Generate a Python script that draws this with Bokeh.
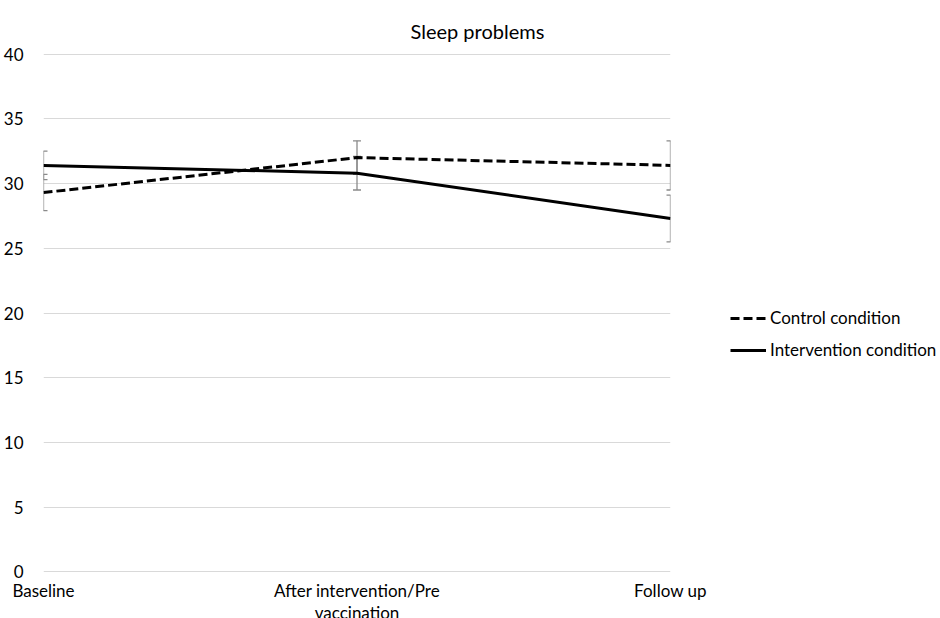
from bokeh.plotting import figure
from bokeh.models import Range1d, FixedTicker, Legend, LegendItem, Title, ColumnDataSource
from bokeh.embed import file_html
from bokeh.resources import INLINE

# ---- data ----
time_labels = ["Baseline", "After intervention/Pre\nvaccination", "Follow up"]
x_pos = [0, 1, 2]
control_mean = [29.3, 32.0, 31.4]
control_err = [1.4, 1.3, 1.9]
intervention_mean = [31.4, 30.8, 27.3]
intervention_err = [1.1, 1.3, 1.8]
y_ticks = [0, 5, 10, 15, 20, 25, 30, 35, 40]

FONT = "Lato"
GRAY = "#8a8a8a"

p = figure(frame_width=627, frame_height=519, output_backend="svg", toolbar_location=None,
           x_range=Range1d(0, 2), y_range=Range1d(-0.04, 40.04),
           min_border_left=41, min_border_right=240, min_border_top=53, min_border_bottom=20,
           background_fill_color="white", border_fill_color="white")
p.outline_line_color = None

p.add_layout(Title(text="Sleep problems", align="left", offset=367, text_font=FONT,
                   text_font_size="20px", text_font_style="normal", text_color="#000000",
                   standoff=21), "above")

# axes
p.xaxis.ticker = FixedTicker(ticks=x_pos)
p.xaxis.major_label_overrides = {x: lab for x, lab in zip(x_pos, time_labels)}
p.yaxis.ticker = FixedTicker(ticks=y_ticks)
for ax in (p.xaxis[0], p.yaxis[0]):
    ax.axis_line_color = None
    ax.major_tick_line_color = None
    ax.minor_tick_line_color = None
    ax.major_label_text_font = FONT
    ax.major_label_text_font_size = "17px"
    ax.major_label_text_color = "#000000"
p.yaxis.major_label_standoff = 14
p.xaxis.major_label_standoff = 1
p.xaxis.major_label_text_line_height = 1.05

p.xgrid.grid_line_color = None
p.ygrid.grid_line_color = "#d9d9d9"
p.ygrid.grid_line_width = 1

# error bars
def err_source(mean, err):
    return ColumnDataSource(dict(
        x=x_pos,
        lo=[m - e for m, e in zip(mean, err)],
        hi=[m + e for m, e in zip(mean, err)],
    ))

for mean, err in ((control_mean, control_err), (intervention_mean, intervention_err)):
    src = err_source(mean, err)
    p.segment(x0="x", y0="lo", x1="x", y1="hi", source=src, line_color=GRAY, line_width=1.3)
    p.scatter(x="x", y="lo", source=src, marker="dash", size=8, line_color=GRAY, line_width=1.3)
    p.scatter(x="x", y="hi", source=src, marker="dash", size=8, line_color=GRAY, line_width=1.3)

r_control = p.line(x_pos, control_mean, line_color="black", line_width=3, line_dash="9 4")
r_interv = p.line(x_pos, intervention_mean, line_color="black", line_width=3)

legend = Legend(items=[LegendItem(label="Control condition", renderers=[r_control]),
                       LegendItem(label="Intervention condition", renderers=[r_interv])],
                location=(60, 212), orientation="vertical",
                padding=0, margin=0, spacing=11, glyph_width=36, glyph_height=20,
                label_height=20, label_standoff=4,
                label_text_font=FONT, label_text_font_size="17px", label_text_color="#000000",
                border_line_color=None, background_fill_alpha=0)
p.add_layout(legend, "right")

open("out.html", "w").write(file_html(p, INLINE))
